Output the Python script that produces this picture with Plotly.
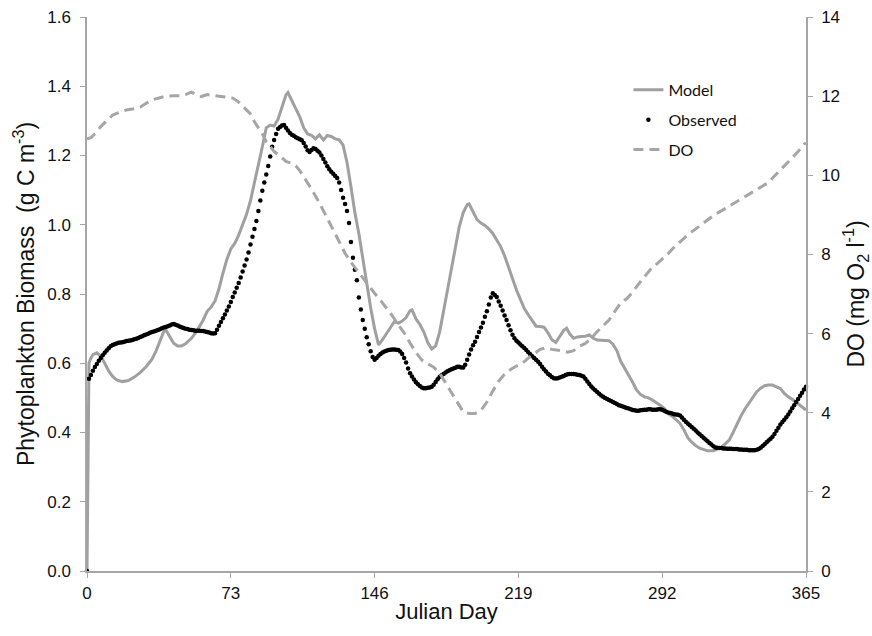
import plotly.graph_objects as go

# ---------------- data ----------------
x_ticks = [0, 73, 146, 219, 292, 365]

obs_vals = [
    0.000, 0.555, 0.566, 0.578, 0.589, 0.598, 0.607, 0.615, 0.623, 0.630,
    0.637, 0.643, 0.649, 0.653, 0.655, 0.657, 0.659, 0.660, 0.661, 0.662,
    0.664, 0.665, 0.666, 0.667, 0.669, 0.671, 0.673, 0.676, 0.678, 0.681,
    0.683, 0.685, 0.688, 0.690, 0.692, 0.694, 0.696, 0.698, 0.701, 0.703,
    0.705, 0.707, 0.709, 0.712, 0.713, 0.711, 0.709, 0.706, 0.704, 0.702,
    0.700, 0.699, 0.697, 0.696, 0.695, 0.694, 0.694, 0.694, 0.693, 0.693,
    0.692, 0.690, 0.689, 0.687, 0.686, 0.687, 0.697, 0.708, 0.719, 0.730,
    0.741, 0.752, 0.764, 0.777, 0.791, 0.804, 0.818, 0.832, 0.848, 0.865,
    0.882, 0.900, 0.920, 0.943, 0.965, 0.988, 1.011, 1.040, 1.070, 1.098,
    1.122, 1.145, 1.170, 1.197, 1.225, 1.245, 1.262, 1.277, 1.282, 1.287,
    1.288, 1.280, 1.272, 1.265, 1.260, 1.257, 1.253, 1.250, 1.247, 1.244,
    1.236, 1.226, 1.215, 1.210, 1.216, 1.221, 1.219, 1.214, 1.209, 1.200,
    1.190, 1.180, 1.169, 1.160, 1.153, 1.147, 1.141, 1.135, 1.122, 1.100,
    1.078, 1.060, 1.040, 1.005, 0.950, 0.905, 0.870, 0.840, 0.790, 0.755,
    0.725, 0.700, 0.675, 0.655, 0.635, 0.618, 0.610, 0.615, 0.622, 0.627,
    0.631, 0.634, 0.636, 0.638, 0.639, 0.640, 0.640, 0.639, 0.638, 0.634,
    0.627, 0.615, 0.602, 0.585, 0.571, 0.562, 0.553, 0.545, 0.539, 0.534,
    0.530, 0.528, 0.528, 0.529, 0.530, 0.532, 0.538, 0.546, 0.554, 0.561,
    0.565, 0.569, 0.573, 0.577, 0.580, 0.583, 0.585, 0.587, 0.590, 0.590,
    0.588, 0.588, 0.596, 0.610, 0.625, 0.640, 0.652, 0.662, 0.676, 0.690,
    0.703, 0.717, 0.734, 0.750, 0.770, 0.790, 0.802, 0.797, 0.791, 0.778,
    0.766, 0.752, 0.738, 0.725, 0.710, 0.695, 0.682, 0.672, 0.665, 0.660,
    0.654, 0.649, 0.644, 0.638, 0.632, 0.626, 0.620, 0.615, 0.610, 0.604,
    0.598, 0.590, 0.583, 0.576, 0.570, 0.565, 0.560, 0.557, 0.556, 0.557,
    0.559, 0.561, 0.563, 0.566, 0.568, 0.569, 0.569, 0.569, 0.568, 0.567,
    0.566, 0.564, 0.562, 0.555, 0.547, 0.540, 0.533, 0.527, 0.522, 0.517,
    0.512, 0.507, 0.503, 0.500, 0.497, 0.494, 0.491, 0.488, 0.485, 0.482,
    0.479, 0.477, 0.475, 0.473, 0.471, 0.469, 0.467, 0.465, 0.464, 0.463,
    0.463, 0.464, 0.465, 0.466, 0.466, 0.467, 0.467, 0.466, 0.466, 0.466,
    0.467, 0.467, 0.466, 0.463, 0.460, 0.458, 0.456, 0.455, 0.453, 0.452,
    0.451, 0.449, 0.443, 0.437, 0.431, 0.426, 0.421, 0.416, 0.411, 0.406,
    0.400, 0.395, 0.390, 0.385, 0.380, 0.375, 0.370, 0.365, 0.360, 0.357,
    0.356, 0.355, 0.355, 0.354, 0.354, 0.353, 0.353, 0.353, 0.352, 0.352,
    0.352, 0.351, 0.351, 0.350, 0.350, 0.350, 0.349, 0.349, 0.349, 0.349,
    0.350, 0.352, 0.356, 0.361, 0.366, 0.372, 0.377, 0.382, 0.388, 0.396,
    0.405, 0.414, 0.423, 0.430, 0.437, 0.444, 0.452, 0.461, 0.470, 0.479,
    0.488, 0.497, 0.506, 0.515, 0.524, 0.532,
]
obs_days = list(range(len(obs_vals)))

model_days = [0, 1, 2, 3, 5, 7, 9, 11, 13, 15, 18, 21, 24, 27, 30, 33, 35, 37, 39, 40,
              42, 44, 46, 48, 50, 53, 56, 59, 61, 63, 65, 67, 69, 71, 73, 75, 77, 79, 81, 83,
              85, 87, 89, 91, 93, 95, 97, 99, 101, 102, 104, 106, 108, 110, 112, 114, 116, 118, 120, 122,
              124, 126, 128, 130, 132, 134, 136, 138, 140, 142, 144, 146, 148, 150, 152, 154, 156, 158, 160, 162,
              164, 165, 167, 169, 171, 173, 175, 177, 179, 181, 183, 185, 187, 189, 191, 193, 194, 196, 198, 200,
              202, 204, 206, 208, 210, 212, 214, 216, 218, 220, 222, 224, 226, 228, 230, 232, 234, 236, 238, 240,
              242, 243.5, 245, 247, 249, 251, 253, 255, 257, 259, 262, 265, 267, 269, 271, 273, 275, 277, 279, 281,
              283, 285, 287, 289, 291, 293, 295, 297, 299, 301, 303, 305, 307, 309, 311, 313, 315, 318, 320, 322,
              324, 326, 328, 330, 332, 334, 336, 338, 340, 342, 344, 346, 348, 350, 352, 354, 356, 358, 360, 362,
              364, 365]
model_vals = [0.0, 0.60, 0.615, 0.625, 0.630, 0.620, 0.600, 0.578, 0.562, 0.552, 0.547, 0.550, 0.560, 0.573, 0.590, 0.612, 0.635, 0.665, 0.692, 0.696,
              0.675, 0.658, 0.650, 0.650, 0.656, 0.672, 0.695, 0.725, 0.750, 0.762, 0.780, 0.815, 0.860, 0.900, 0.930, 0.946, 0.970, 1.000, 1.030, 1.070,
              1.120, 1.170, 1.225, 1.280, 1.288, 1.285, 1.305, 1.340, 1.375, 1.382, 1.360, 1.335, 1.312, 1.280, 1.262, 1.258, 1.248, 1.260, 1.245, 1.258,
              1.255, 1.248, 1.245, 1.230, 1.180, 1.110, 1.035, 0.975, 0.900, 0.830, 0.760, 0.700, 0.653, 0.668, 0.686, 0.705, 0.720, 0.716, 0.722, 0.732,
              0.752, 0.754, 0.728, 0.712, 0.690, 0.660, 0.641, 0.650, 0.690, 0.750, 0.810, 0.870, 0.940, 0.995, 1.035, 1.058, 1.060, 1.035, 1.015, 1.005,
              0.998, 0.988, 0.975, 0.956, 0.937, 0.910, 0.880, 0.845, 0.812, 0.785, 0.758, 0.740, 0.725, 0.707, 0.706, 0.704, 0.688, 0.668, 0.660, 0.677,
              0.695, 0.701, 0.685, 0.672, 0.676, 0.677, 0.678, 0.682, 0.672, 0.667, 0.666, 0.665, 0.655, 0.636, 0.605, 0.585, 0.568, 0.545, 0.523, 0.510,
              0.503, 0.500, 0.494, 0.487, 0.479, 0.470, 0.455, 0.447, 0.437, 0.427, 0.408, 0.385, 0.372, 0.362, 0.355, 0.350, 0.347, 0.347, 0.351, 0.357,
              0.367, 0.378, 0.400, 0.425, 0.448, 0.468, 0.486, 0.503, 0.518, 0.528, 0.535, 0.537, 0.537, 0.532, 0.527, 0.513, 0.503, 0.496, 0.487, 0.477,
              0.468, 0.465]

do_days = [0, 2, 4, 7, 10, 13, 17, 20, 24, 27, 30, 34, 37, 40, 44, 47, 50, 53, 55, 58,
           61, 64, 67, 70, 74, 77, 80, 83, 85, 87, 89, 91, 93, 95, 98, 101, 104, 106, 108, 111,
           114, 118, 121, 125, 128, 131, 134, 137, 140, 143, 146, 149, 152, 155, 158, 161, 164, 167, 170, 173,
           176, 179, 182, 185, 188, 191, 194, 197, 200, 203, 206, 209, 212, 215, 218, 221, 224, 227, 230, 233,
           236, 240, 244, 247, 250, 253, 256, 259, 262, 265, 268, 271, 274, 277, 280, 283, 286, 289, 292, 295,
           298, 301, 304, 307, 310, 313, 316, 319, 322, 325, 328, 331, 334, 337, 340, 343, 346, 349, 352, 355,
           358, 361, 364, 365]
do_vals = [10.92, 10.95, 11.05, 11.23, 11.38, 11.52, 11.60, 11.65, 11.68, 11.72, 11.82, 11.92, 11.96, 12.0, 12.01, 12.01, 12.04, 12.10, 12.05, 11.99,
           12.04, 12.02, 12.0, 11.97, 11.95, 11.85, 11.70, 11.55, 11.35, 11.20, 11.05, 10.85, 10.72, 10.60, 10.49, 10.35, 10.30, 10.24, 10.12, 9.90,
           9.65, 9.30, 9.0, 8.62, 8.30, 8.03, 7.80, 7.60, 7.40, 7.22, 7.02, 6.84, 6.65, 6.45, 6.22, 6.02, 5.76, 5.52, 5.33, 5.24,
           5.15, 5.00, 4.76, 4.50, 4.25, 4.02, 3.98, 3.98, 4.06, 4.27, 4.55, 4.80, 4.97, 5.09, 5.18, 5.25, 5.38, 5.48, 5.60, 5.64,
           5.60, 5.57, 5.53, 5.57, 5.68, 5.75, 5.88, 6.05, 6.20, 6.34, 6.56, 6.78, 6.88, 7.05, 7.25, 7.45, 7.62, 7.75, 7.88, 8.02,
           8.18, 8.32, 8.45, 8.57, 8.68, 8.80, 8.90, 9.02, 9.10, 9.20, 9.28, 9.37, 9.46, 9.55, 9.63, 9.74, 9.82, 9.98, 10.13, 10.28,
           10.45, 10.60, 10.78, 10.82]

# ---------------- figure ----------------
AXIS_GREY = "#a6a6a6"
TEXT = "#111111"
FONT = "Liberation Sans, Arial, sans-serif"
TICK_SIZE = 17
TITLE_SIZE = 22

fig = go.Figure()
fig.add_trace(go.Scatter(
    x=model_days, y=model_vals, name="Model", mode="lines",
    line=dict(color="#a0a0a0", width=3), legendgroup="a", cliponaxis=False))
fig.add_trace(go.Scatter(
    x=obs_days, y=obs_vals, name="Observed", mode="markers",
    marker=dict(color="black", size=4.5, line=dict(width=0)), legendgroup="b", cliponaxis=False))
fig.add_trace(go.Scatter(
    x=do_days, y=do_vals, name="DO", mode="lines", yaxis="y2",
    line=dict(color="#a6a6a6", width=3, dash="10px,6px"), legendgroup="c"))

fig.update_layout(
    width=872, height=636,
    margin=dict(l=87, r=66, t=17, b=65),
    paper_bgcolor="white", plot_bgcolor="white",
    font=dict(family=FONT, size=TICK_SIZE, color=TEXT),
    showlegend=True,
    legend=dict(x=0.753, y=0.899, xanchor="left", yanchor="top",
                bgcolor="rgba(0,0,0,0)", tracegroupgap=6,
                font=dict(family="Lato, Open Sans, sans-serif", size=16, color=TEXT)),
    xaxis=dict(range=[0, 365], tickvals=x_ticks, ticktext=[str(t) for t in x_ticks],
               automargin=False,
               showgrid=False, zeroline=False, showline=True, linecolor=AXIS_GREY, linewidth=1.5,
               ticks="outside", ticklen=5, tickcolor=AXIS_GREY, ticklabelstandoff=1,
               title=dict(text="Julian Day", font=dict(size=TITLE_SIZE), standoff=1),
               tickfont=dict(size=TICK_SIZE)),
    yaxis=dict(range=[0, 1.6], dtick=0.2, tickformat=".1f",
               automargin=False,
               showgrid=False, zeroline=False, showline=True, linecolor=AXIS_GREY, linewidth=1.5,
               ticks="outside", ticklen=5, tickcolor=AXIS_GREY, ticklabelstandoff=6,
               title=dict(text="Phytoplankton Biomass  (g C m<sup>-3</sup>)", font=dict(size=TITLE_SIZE + 1), standoff=6),
               tickfont=dict(size=TICK_SIZE)),
    yaxis2=dict(range=[0, 14], dtick=2, overlaying="y", side="right",
                automargin=False,
                showgrid=False, zeroline=False, showline=True, linecolor=AXIS_GREY, linewidth=1.5,
                ticks="outside", ticklen=5, tickcolor=AXIS_GREY, ticklabelstandoff=5,
                title=dict(text="DO (mg O<sub>2</sub> l<sup>-1</sup>)", font=dict(size=TITLE_SIZE + 1), standoff=14),
                tickfont=dict(size=TICK_SIZE)),
)

fig.write_html("out.html")
